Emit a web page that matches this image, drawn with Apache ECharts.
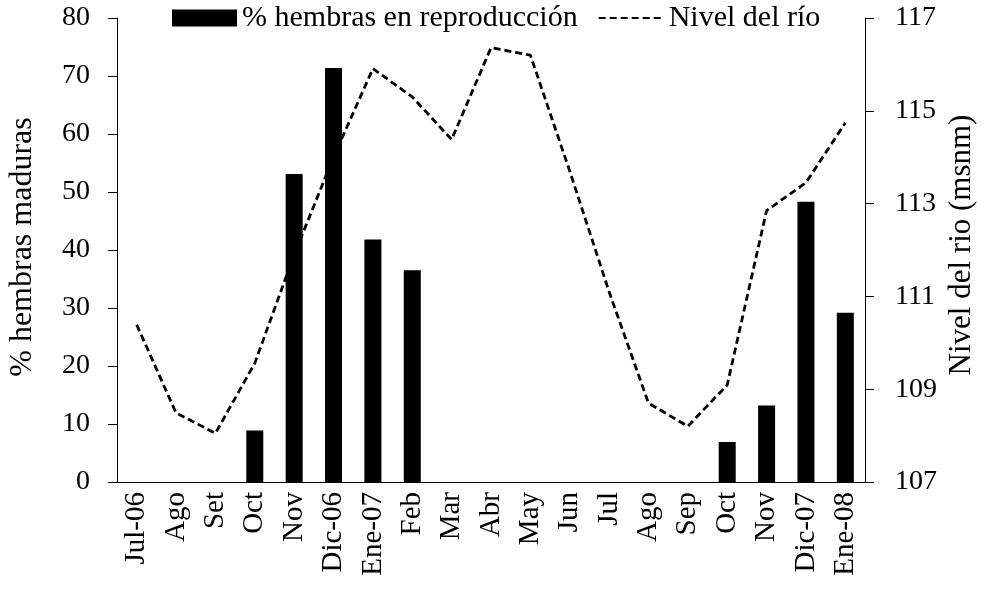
<!DOCTYPE html>
<html>
<head>
<meta charset="utf-8">
<script src="https://cdn.jsdelivr.net/npm/echarts@6/dist/echarts.min.js"></script>
<style>
	html, body { margin: 0; padding: 0; background: #fff; }
	.main { width: 987px; height: 592px; }
</style>
</head>
<body>
<div class="main"></div>
<script>
const meses = ['Jul-06', 'Ago', 'Set', 'Oct', 'Nov', 'Dic-06', 'Ene-07', 'Feb', 'Mar', 'Abr', 'May', 'Jun', 'Jul', 'Ago', 'Sep', 'Oct', 'Nov', 'Dic-07', 'Ene-08'];
// % hembras en reproducción
const hembras = [0, 0, 0, 8.9, 53.1, 71.4, 41.8, 36.5, 0, 0, 0, 0, 0, 0, 0, 6.9, 13.2, 48.3, 29.2];
// nivel del río (msnm)
const nivel = [110.39, 108.49, 108.05, 109.56, 111.9, 114.0, 115.91, 115.3, 114.38, 116.36, 116.2, 113.7, 111.1, 108.7, 108.2, 109.09, 112.85, 113.45, 114.74];

const fuente = "'Liberation Serif', 'Times New Roman', serif";

let myChart = echarts.init(document.getElementsByClassName('main')[0]);

let option = {
	animation: false,
	backgroundColor: '#fff',
	textStyle: { fontFamily: fuente, color: '#000' },
	grid: { left: 117, right: 122, top: 18, bottom: 110 },
	legend: {
		left: 172,
		top: 3,
		padding: 0,
		itemWidth: 65,
		itemHeight: 17,
		itemGap: 20,
		textStyle: { fontFamily: fuente, fontSize: 30, color: '#000' },
		data: [
			{ name: '% hembras en reproducción', icon: 'rect' },
			// solo la línea discontinua, sin el punto
			{ name: 'Nivel del río', itemStyle: { color: 'transparent', borderWidth: 0 } }
		]
	},
	graphic: [
		{
			type: 'text',
			x: 22.5, y: 247,
			rotation: Math.PI / 2,
			style: { text: '% hembras maduras', font: '32px ' + fuente, fill: '#000', align: 'center', verticalAlign: 'middle' }
		},
		{
			type: 'text',
			x: 962, y: 245,
			rotation: Math.PI / 2,
			style: { text: 'Nivel del rio (msnm)', font: '31px ' + fuente, fill: '#000', align: 'center', verticalAlign: 'middle' }
		}
	],
	xAxis: {
		type: 'category',
		data: meses,
		boundaryGap: true,
		axisLine: { lineStyle: { color: '#000', width: 1 } },
		axisTick: { length: 7, lineStyle: { color: '#000' } },
		axisLabel: { rotate: 90, margin: 10, fontSize: 29, color: '#000', fontFamily: fuente, interval: 0 },
		splitLine: { show: false }
	},
	yAxis: [
		{
			type: 'value',
			min: 0,
			max: 80,
			interval: 10,
			axisLine: { show: true, lineStyle: { color: '#000', width: 1 } },
			axisTick: { show: true, length: 9, lineStyle: { color: '#000' } },
			axisLabel: { margin: 27, fontSize: 28, color: '#000', fontFamily: fuente },
			splitLine: { show: false }
		},
		{
			type: 'value',
			min: 107,
			max: 117,
			interval: 2,
			position: 'right',
			axisLine: { show: true, lineStyle: { color: '#000', width: 1 } },
			axisTick: { show: true, length: 9, lineStyle: { color: '#000' } },
			axisLabel: { margin: 30, fontSize: 28, color: '#000', fontFamily: fuente },
			splitLine: { show: false }
		}
	],
	series: [
		{
			name: 'Nivel del río',
			type: 'line',
			yAxisIndex: 1,
			data: nivel,
			symbol: 'none',
			z: 1,
			itemStyle: { color: '#000' },
			lineStyle: { color: '#000', width: 2.8, type: [7, 4] }
		},
		{
			name: '% hembras en reproducción',
			type: 'bar',
			yAxisIndex: 0,
			data: hembras,
			barWidth: 17,
			z: 3,
			itemStyle: { color: '#000' }
		}
	]
};
myChart.setOption(option);
</script>
</body>
</html>
